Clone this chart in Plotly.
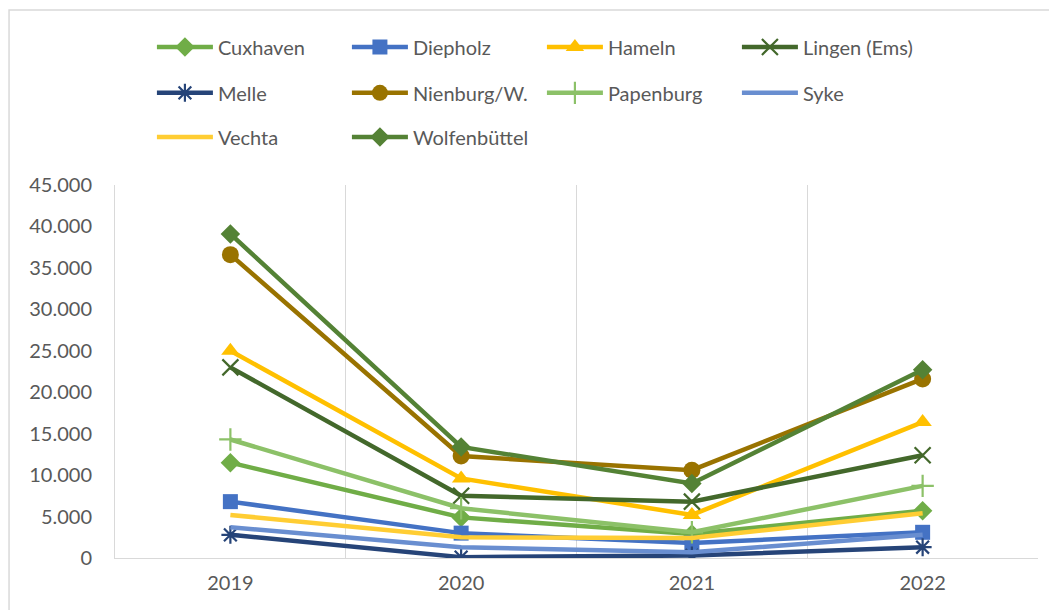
import plotly.graph_objects as go

years = ["2019", "2020", "2021", "2022"]

cuxhaven = [11500, 4900, 2900, 5700]
diepholz = [6800, 3000, 1800, 3100]
hameln = [25000, 9600, 5200, 16400]
lingen = [23000, 7500, 6800, 12400]
melle = [2800, 100, 300, 1300]
nienburg = [36600, 12300, 10600, 21600]
papenburg = [14300, 6000, 3100, 8700]
syke = [3700, 1300, 700, 2800]
vechta = [5200, 2500, 2400, 5400]
wolfenbuettel = [39100, 13400, 9000, 22700]

names = ["Cuxhaven", "Diepholz", "Hameln", "Lingen (Ems)", "Melle",
         "Nienburg/W.", "Papenburg", "Syke", "Vechta", "Wolfenbüttel"]
values = [cuxhaven, diepholz, hameln, lingen, melle,
          nienburg, papenburg, syke, vechta, wolfenbuettel]

colors = ["#70AD47", "#4472C4", "#FFC000", "#43682B", "#264478",
          "#997300", "#8CC168", "#698ED0", "#FFCD33", "#548235"]
symbols = ["diamond", "square", "triangle-up", "x-thin-open", "asterisk-open",
           "circle", "cross-thin-open", None, None, "diamond"]
msizes = [15, 15, 16, 16, 15, 17, 16, 0, 0, 15]
legends = ["legend"] * 4 + ["legend2"] * 4 + ["legend3"] * 2

fig = go.Figure()
for name, vals, col, sym, ms, lg in zip(names, values, colors, symbols, msizes, legends):
    if sym is None:
        mode = "lines"
        marker = None
    else:
        mode = "lines+markers"
        marker = dict(symbol=sym, size=ms, color=col,
                      line=dict(color=col, width=2.2 if "open" in sym else 0))
    fig.add_trace(go.Scatter(
        x=years, y=vals, name=name, mode=mode,
        line=dict(color=col, width=4.5),
        marker=marker, legend=lg,
    ))

font_family = "Lato, 'Open Sans', sans-serif"
leg_common = dict(orientation="h", xanchor="left", yanchor="middle",
                  entrywidth=124, entrywidthmode="pixels", itemwidth=56,
                  font=dict(family=font_family, size=20, color="#595959"),
                  bgcolor="rgba(0,0,0,0)", x=0.040)

fig.update_layout(
    width=1057, height=610,
    margin=dict(l=107, r=27, t=177, b=60),
    paper_bgcolor="white", plot_bgcolor="white",
    separators=",.",
    showlegend=True,
    legend=dict(**leg_common, y=1.370),
    legend2=dict(**leg_common, y=1.247),
    legend3=dict(**leg_common, y=1.129),
    xaxis=dict(
        type="category", range=[-0.5, 3.5], tickson="boundaries",
        showgrid=True, gridcolor="#D9D9D9", gridwidth=1,
        showline=True, linecolor="#D9D9D9", linewidth=1,
        ticks="", zeroline=False,
        tickfont=dict(family=font_family, size=20, color="#595959"),
        ticklabelstandoff=7,
    ),
    yaxis=dict(
        range=[0, 45000], tickvals=[0, 5000, 10000, 15000, 20000, 25000, 30000, 35000, 40000, 45000],
        tickformat=",d", showgrid=False, zeroline=False,
        showline=True, linecolor="#D9D9D9", linewidth=1,
        ticks="", ticklabelstandoff=18,
        tickfont=dict(family=font_family, size=20, color="#595959"),
    ),
    shapes=[dict(type="rect", xref="paper", yref="paper",
                 x0=-0.1148, x1=1.2, y0=-0.3, y1=1.469,
                 line=dict(color="#D9D9D9", width=1.5), layer="below")],
)

fig.write_html("out.html")
